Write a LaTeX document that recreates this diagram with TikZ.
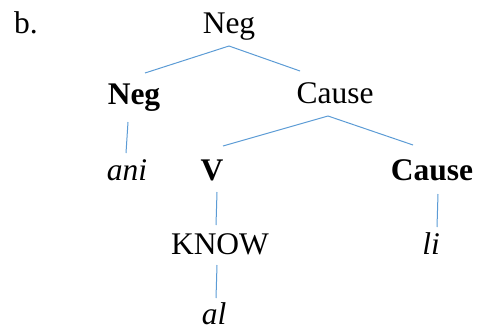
\documentclass[tikz,border=0pt]{standalone}
\usepackage{fontspec}
\setmainfont{Liberation Serif}
\usetikzlibrary{calc}
\definecolor{branch}{HTML}{5B9BD5}
\begin{document}
\begin{tikzpicture}[x=1pt,y=-1pt,
  lbl/.style={inner sep=0pt,anchor=base,font=\fontsize{31.5}{36}\selectfont},
  edge/.style={draw=branch,line width=1pt}]
\useasboundingbox (0,0) rectangle (477,332);
% labels of the tree
\node[lbl,anchor=base west] (item) at (14,33) {b.};
\node[lbl] (top) at (229,33) {Neg};
\node[lbl] (negb) at (134,104) {\textbf{Neg}};
\node[lbl] (cause) at (335,103) {Cause};
\node[lbl] (ani) at (127,180) {\textit{ani}};
\node[lbl] (v) at (212,180) {\textbf{V}};
\node[lbl] (causeb) at (432,180) {\textbf{Cause}};
\node[lbl] (know) at (220,254) {KNOW};
\node[lbl] (li) at (431,254) {\textit{li}};
\node[lbl] (al) at (214,324) {\textit{al}};
% branches
\draw[edge] ([shift={(0,13)}]top.base) -- ([shift={(11,-31)}]negb.base);
\draw[edge] ([shift={(0,13)}]top.base) -- ([shift={(-35,-32)}]cause.base);
\draw[edge] ([shift={(-6,18)}]negb.base) -- ([shift={(-1,-27)}]ani.base);
\draw[edge] ([shift={(-7,13)}]cause.base) -- ([shift={(11,-34)}]v.base);
\draw[edge] ([shift={(-7,13)}]cause.base) -- ([shift={(-19,-35)}]causeb.base);
\draw[edge] ([shift={(5,12)}]v.base) -- ([shift={(-4,-29)}]know.base);
\draw[edge] ([shift={(6,14)}]causeb.base) -- ([shift={(6,-27)}]li.base);
\draw[edge] ([shift={(-3,11)}]know.base) -- ([shift={(2,-26)}]al.base);
\end{tikzpicture}
\end{document}
